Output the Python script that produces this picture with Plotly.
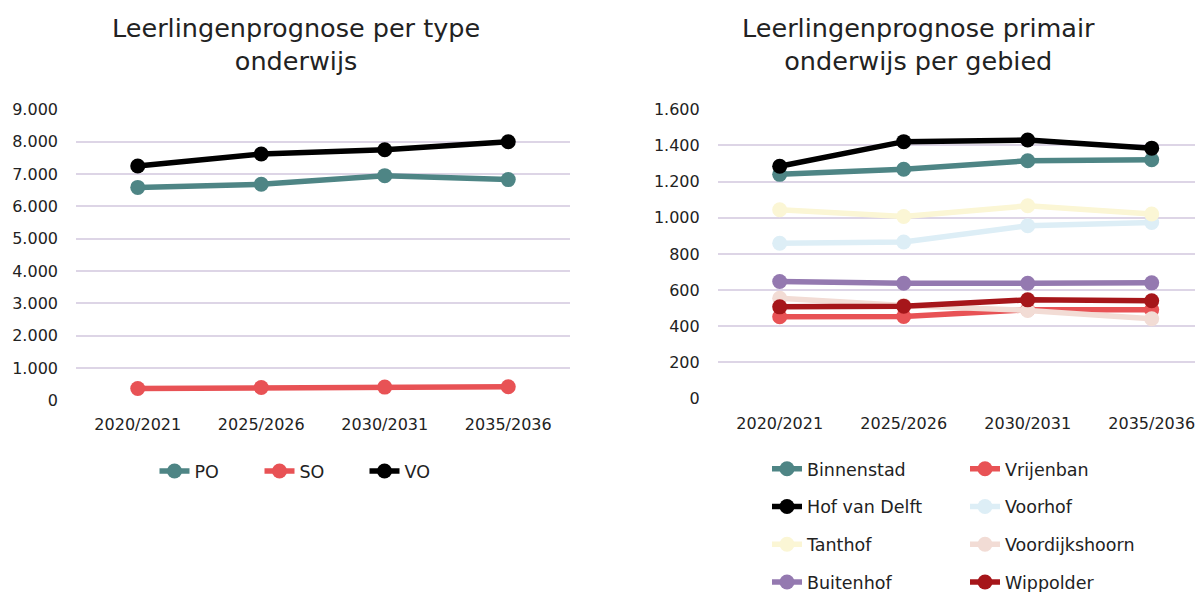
import plotly.graph_objects as go

categories = ["2020/2021", "2025/2026", "2030/2031", "2035/2036"]

# Left chart: per type onderwijs
po = [6585, 6681, 6949, 6826]
so = [370, 400, 413, 422]
vo = [7245, 7617, 7749, 7996]

# Right chart: primair onderwijs per gebied
binnenstad = [1240, 1268, 1315, 1321]
vrijenban = [452, 454, 491, 491]
hof_van_delft = [1285, 1421, 1430, 1385]
voorhof = [859, 866, 956, 974]
tanthof = [1044, 1007, 1066, 1021]
voordijkshoorn = [555, 515, 487, 441]
buitenhof = [647, 638, 638, 640]
wippolder = [507, 511, 546, 541]

FONT = "DejaVu Sans"
TXT = "#222222"
GRID = "#DDD5E6"

fig = go.Figure()

left_series = [("PO", po, "#4E8585"), ("SO", so, "#E85255"), ("VO", vo, "#000000")]
for name, vals, col in left_series:
    fig.add_trace(go.Scatter(
        x=categories, y=vals, name=name, mode="lines+markers",
        line=dict(color=col, width=5.5), marker=dict(color=col, size=15),
        xaxis="x", yaxis="y", legend="legend"))

right_series = [
    ("Binnenstad", binnenstad, "#4E8585", "legend2"),
    ("Vrijenban", vrijenban, "#E85255", "legend3"),
    ("Hof van Delft", hof_van_delft, "#000000", "legend2"),
    ("Voorhof", voorhof, "#DDEEF6", "legend3"),
    ("Tanthof", tanthof, "#FBF6D5", "legend2"),
    ("Voordijkshoorn", voordijkshoorn, "#F2DCD5", "legend3"),
    ("Buitenhof", buitenhof, "#9479B0", "legend2"),
    ("Wippolder", wippolder, "#A6161A", "legend3"),
]
for name, vals, col, lg in right_series:
    fig.add_trace(go.Scatter(
        x=categories, y=vals, name=name, mode="lines+markers",
        line=dict(color=col, width=5.5), marker=dict(color=col, size=15),
        xaxis="x2", yaxis="y2", legend=lg, legendgroup=name))

W, H = 1203, 600
axis_common = dict(showline=False, zeroline=False, ticks="",
                   tickfont=dict(family=FONT, size=16, color=TXT))

def py(v):
    return (H - v) / H

legend_font = dict(family=FONT, size=17.5, color=TXT)

fig.update_layout(
    width=W, height=H, margin=dict(l=0, r=0, t=0, b=0),
    paper_bgcolor="white", plot_bgcolor="white",
    separators=",.",
    font=dict(family=FONT, color=TXT),
    showlegend=True,
    xaxis=dict(domain=[68 / W, 562 / W], type="category", range=[-0.5, 3.5],
               showgrid=False, anchor="y", ticklabelstandoff=13, **axis_common),
    yaxis=dict(domain=[py(396), py(95.3)], range=[0, 9000], dtick=1000,
               tickformat=",d", showgrid=True, gridcolor=GRID, gridwidth=2,
               anchor="x", ticklabelstandoff=17, **axis_common),
    xaxis2=dict(domain=[709.7 / W, 1.0], type="category",
                range=[-0.5, -0.5 + (W - 709.7) / 124.0],
                showgrid=False, anchor="y2", ticklabelstandoff=13, **axis_common),
    yaxis2=dict(domain=[py(394), py(95.3)], range=[0, 1600], dtick=200,
                tickformat=",d", showgrid=True, gridcolor=GRID, gridwidth=2,
                anchor="x2", ticklabelstandoff=17, **axis_common),
    legend=dict(orientation="h", x=304 / W, xanchor="center", y=py(469), yanchor="middle",
                font=legend_font, entrywidth=60, bgcolor="rgba(0,0,0,0)"),
    legend2=dict(orientation="v", x=759 / W, xanchor="left", y=py(448), yanchor="top",
                 font=legend_font, tracegroupgap=12, bgcolor="rgba(0,0,0,0)"),
    legend3=dict(orientation="v", x=957 / W, xanchor="left", y=py(448), yanchor="top",
                 font=legend_font, tracegroupgap=12, bgcolor="rgba(0,0,0,0)"),
    annotations=[
        dict(text="Leerlingenprognose per type<br>onderwijs", x=288 / W, y=py(28),
             xref="paper", yref="paper", xanchor="center", yanchor="middle", showarrow=False,
             font=dict(family=FONT, size=25.5, color=TXT)),
        dict(text="Leerlingenprognose primair<br>onderwijs per gebied", x=911 / W, y=py(28),
             xref="paper", yref="paper", xanchor="center", yanchor="middle", showarrow=False,
             font=dict(family=FONT, size=25.5, color=TXT)),
    ],
)

fig.write_html("out.html")
